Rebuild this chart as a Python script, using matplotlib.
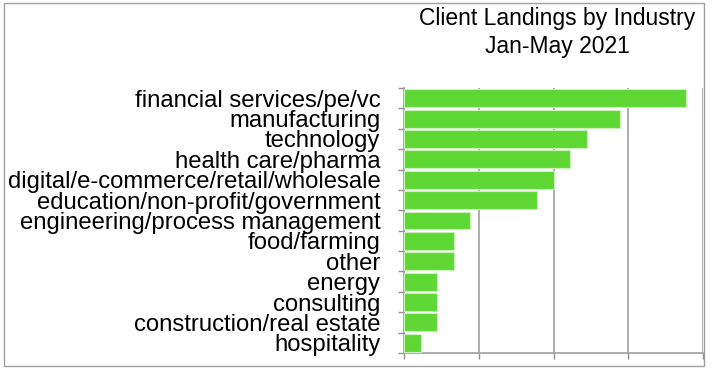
import numpy as np
import matplotlib.pyplot as plt
from matplotlib.patches import Rectangle

# Client landings by industry, Jan-May 2021
industries = ['financial services/pe/vc', 'manufacturing', 'technology',
              'health care/pharma', 'digital/e-commerce/retail/wholesale',
              'education/non-profit/government', 'engineering/process management',
              'food/farming', 'other', 'energy', 'consulting',
              'construction/real estate', 'hospitality']
landings = [17, 13, 11, 10, 9, 8, 4, 3, 3, 2, 2, 2, 1]
x_ticks = [0, 4.5, 9, 13.5, 18]

plt.rcParams['font.family'] = ['Liberation Sans', 'DejaVu Sans']

fig = plt.figure(figsize=(7.12, 3.75), dpi=100)
ax = fig.add_axes([404 / 712, 1 - 353 / 375, 299 / 712, 265 / 375])

y = np.arange(len(industries))
ax.barh(y, landings, height=0.88, color='#5FD836',
        edgecolor='#C9F2B8', linewidth=0.8, zorder=3)

ax.set_xlim(0, 18)
ax.set_ylim(len(industries) - 0.5, -0.5)
ax.set_xticks(x_ticks)
ax.set_xticklabels([])
ax.grid(axis='x', color='#A0A0A0', linewidth=1.2, zorder=0)

ax.set_yticks(y)
ax.set_yticklabels(industries, fontsize=17.2)
ax.tick_params(axis='y', which='major', length=0, pad=17)
ax.set_yticks(np.arange(len(industries) + 1) - 0.5, minor=True)
ax.tick_params(axis='y', which='minor', length=4, color='#909090', width=1)
ax.tick_params(axis='x', length=4, color='#909090', width=1)

for s in ['top', 'right']:
    ax.spines[s].set_visible(False)
for s in ['left', 'bottom']:
    ax.spines[s].set_color('#A0A0A0')
    ax.spines[s].set_linewidth(1.2)

fig.text(557.5 / 712, 1 - 18 / 375, 'Client Landings by Industry',
         ha='center', va='center', fontsize=16.5)
fig.text(557.5 / 712, 1 - 47 / 375, 'Jan-May 2021',
         ha='center', va='center', fontsize=16.5)

fig.patches.append(Rectangle((4 / 712, 1 - 366 / 375), 700 / 712, 363 / 375,
                             transform=fig.transFigure, fill=False,
                             edgecolor='#A0A0A0', linewidth=1))

plt.savefig('out.png', dpi=100)
